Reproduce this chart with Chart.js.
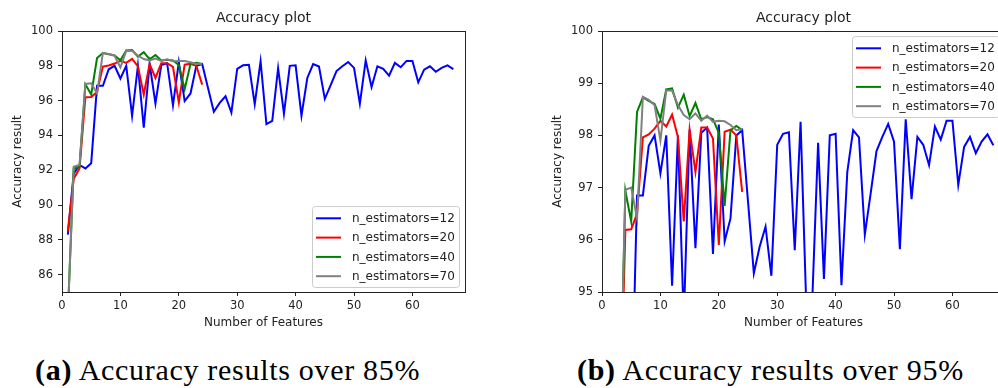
<!DOCTYPE html>
<html>
<head>
<meta charset="utf-8">
<script src="https://cdn.jsdelivr.net/npm/chart.js@4.4.0/dist/chart.umd.min.js"></script>
<style>
  html, body { margin: 0; padding: 0; background: #fff; overflow: hidden; width: 998px; height: 388px; }
  .panel { position: absolute; top: 0; width: 480px; height: 335px; }
  .caption { position: absolute; top: 355px; font-family: 'Liberation Serif', serif; font-size: 30px; line-height: 30px; letter-spacing: 0.7px; white-space: nowrap; color: #000; }
</style>
</head>
<body>
<div class="panel" style="left:0"><canvas id="chartA"></canvas></div>
<div class="panel" style="left:540px"><canvas id="chartB"></canvas></div>
<div class="caption" style="left:35px"><b>(a)</b> Accuracy results over 85%</div>
<div class="caption" style="left:577px"><b>(b)</b> Accuracy results over 95%</div>
<script>
// number of features used (x axis)
const nFeatures = Array.from({length: 67}, (_, i) => i + 1);

// accuracy results per n_estimators
const acc12 = [88.3, 91.8, 92.3, 92.1, 92.4, 96.85, 96.85, 97.8, 98.0, 97.27,
               98.0, 95.12, 98.0, 94.44, 98.11, 95.84, 98.05, 98.15, 95.73, 98.21,
               95.97, 96.41, 98.0, 98.1, 96.73, 95.36, 95.87, 96.25, 95.31, 97.82,
               98.03, 98.06, 95.8, 98.26, 94.65, 94.84, 97.86, 95.25, 98.0, 98.03,
               95.13, 97.3, 98.1, 97.96, 96.1, 96.89, 97.7, 97.97, 98.22, 97.88,
               95.82, 98.31, 96.78, 97.97, 97.82, 97.43, 98.17, 97.92, 98.28, 98.28,
               97.05, 97.78, 97.97, 97.66, 97.88, 98.02, 97.81];
const acc20 = [88.5, 91.5, 92.1, 96.19, 96.2, 96.5, 97.96, 98.02, 98.13, 98.28,
               98.17, 98.4, 97.97, 96.35, 98.11, 97.3, 98.15, 98.15, 97.94, 95.9,
               98.07, 98.11, 98.0, 96.92];
const acc40 = [83.7, 92.1, 92.2, 96.94, 96.35, 98.45, 98.73, 98.66, 98.6, 98.32,
               98.88, 98.9, 98.53, 98.78, 98.37, 98.62, 98.31, 98.35, 98.31, 98.05,
               96.65, 98.1, 98.18, 98.1];
const acc70 = [83.7, 92.2, 92.3, 96.96, 97.0, 96.41, 98.74, 98.68, 98.58, 97.9,
               98.86, 98.86, 98.58, 98.39, 98.31, 98.42, 98.28, 98.38, 98.26, 98.28,
               98.27, 98.2, 98.1, 98.12];

const seriesLabels = ['n_estimators=12', 'n_estimators=20', 'n_estimators=40', 'n_estimators=70'];
const seriesValues = [acc12, acc20, acc40, acc70];
const seriesColors = ['#0000ff', '#ff0000', '#008000', '#808080'];

const xTicks = [0, 10, 20, 30, 40, 50, 60];
const yTicksA = [86, 88, 90, 92, 94, 96, 98, 100];
const yTicksB = [95, 96, 97, 98, 99, 100];

Chart.defaults.font.family = '"DejaVu Sans", sans-serif';
Chart.defaults.color = '#222';

// axes box + matplotlib style legend
const frameAndLegend = {
    id: 'frameAndLegend',
    afterDraw(chart, args, opts) {
        const ctx = chart.ctx;
        const a = chart.chartArea;
        ctx.save();
        ctx.strokeStyle = '#222';
        ctx.lineWidth = 1;
        ctx.strokeRect(a.left + 0.5, a.top + 0.5, a.right - a.left, a.bottom - a.top);

        const b = opts.box;
        ctx.fillStyle = 'rgba(255,255,255,0.8)';
        ctx.strokeStyle = '#cccccc';
        ctx.beginPath();
        ctx.roundRect(b.x + 0.5, b.y + 0.5, b.w, b.h, 3);
        ctx.fill();
        ctx.stroke();

        ctx.font = '12px "DejaVu Sans"';
        ctx.textBaseline = 'middle';
        ctx.textAlign = 'left';
        chart.data.datasets.forEach(function(ds, i) {
            const y = b.y + 12.3 + i * 19.3;
            ctx.strokeStyle = ds.borderColor;
            ctx.lineWidth = 2;
            ctx.beginPath();
            ctx.moveTo(b.x + 4, y);
            ctx.lineTo(b.x + 29, y);
            ctx.stroke();
            ctx.fillStyle = '#222';
            ctx.fillText(ds.label, b.x + 40, y + 0.5);
        });
        ctx.restore();
    }
};

function makeChart(id, yMin, yTicks, legendY) {
    const datasets = seriesValues.map(function(vals, i) {
        return {
            label: seriesLabels[i],
            data: vals.map((v, j) => ({x: nFeatures[j], y: v})),
            borderColor: seriesColors[i],
            borderWidth: 2,
            pointRadius: 0,
            fill: false,
            tension: 0,
            order: seriesValues.length - i
        };
    });

    return new Chart(document.getElementById(id), {
        type: 'line',
        data: { datasets: datasets },
        options: {
            responsive: true,
            maintainAspectRatio: false,
            animation: false,
            layout: { padding: { left: 0, right: 15, top: 0, bottom: 0 } },
            plugins: {
                legend: { display: false },
                tooltip: { enabled: false },
                frameAndLegend: { box: { x: 312, y: legendY, w: 147, h: 81 } }
            },
            scales: {
                x: {
                    type: 'linear',
                    min: 0,
                    max: 69,
                    afterBuildTicks: s => { s.ticks = xTicks.map(v => ({value: v})); },
                    afterFit: s => { s.height = 43; },
                    grid: { drawOnChartArea: false, drawTicks: true, tickLength: 4, color: '#222' },
                    border: { display: false },
                    ticks: { font: { size: 11.5 }, padding: 3, maxRotation: 0 },
                    title: { display: true, text: 'Number of Features', font: { size: 12 }, padding: { top: 0, bottom: 4.8 } }
                },
                xTop: {
                    type: 'linear',
                    position: 'top',
                    min: 0,
                    max: 69,
                    afterFit: s => { s.height = 31; },
                    grid: { display: false },
                    border: { display: false },
                    ticks: { display: false },
                    title: { display: true, text: 'Accuracy plot', font: { size: 14 }, padding: { top: 9.6, bottom: 0 } }
                },
                y: {
                    min: yMin,
                    max: 100,
                    afterBuildTicks: s => { s.ticks = yTicks.map(v => ({value: v})); },
                    afterFit: s => { s.width = 62; },
                    grid: { drawOnChartArea: false, drawTicks: true, tickLength: 4, color: '#222' },
                    border: { display: false },
                    ticks: { font: { size: 11.5 }, padding: 5 },
                    title: { display: true, text: 'Accuracy result', font: { size: 12 }, padding: { top: 11, bottom: 0 } }
                }
            }
        },
        plugins: [frameAndLegend]
    });
}

makeChart('chartA', 85, yTicksA, 206);
makeChart('chartB', 95, yTicksB, 36);
</script>
</body>
</html>
